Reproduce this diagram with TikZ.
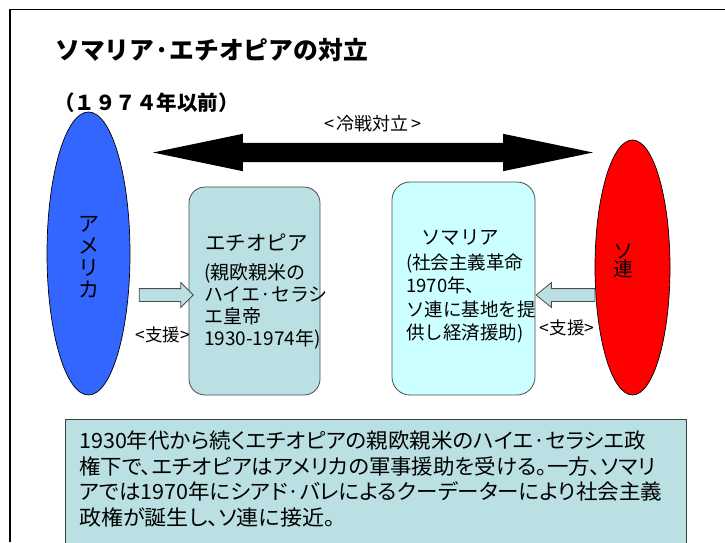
\documentclass[tikz,border=0pt]{standalone}
\usepackage{fontspec}
\usepackage{graphicx}
\setmainfont{Noto Sans CJK JP}
\newfontfamily\jpp[RawFeature=+palt]{Noto Sans CJK JP}
\usetikzlibrary{shapes.geometric,shapes.arrows}
\definecolor{usblue}{HTML}{3366FF}
\definecolor{boxgray}{HTML}{BBE0E3}
\definecolor{boxcyan}{HTML}{CCFFFF}
\newcommand\fitline[2]{\resizebox{#1}{\height}{#2}}
\tikzset{
  country/.style={ellipse, draw=black, line width=0.7pt, inner sep=0pt},
  statebox/.style={draw=black!70, line width=0.8pt, rounded corners=16pt},
  aidarrow/.style={single arrow, draw=black!70, fill=boxgray, line width=0.8pt,
    inner xsep=0pt, inner ysep=6pt, single arrow head extend=6pt},
}
\begin{document}
\begin{tikzpicture}[x=1pt,y=-1pt]
\useasboundingbox (0,0) rectangle (725,542);
% frame
\draw[line width=1.5pt] (10,542) -- (10,9.5) -- (725,9.5);
% title
\node[anchor=west, inner sep=0pt, font=\fontsize{24.8}{28}\selectfont\bfseries] (title) at (55,50) {ソマリア·エチオピアの対立};
\node[anchor=west, inner sep=0pt, font=\fontsize{20.5}{24}\selectfont\bfseries] (sub) at (54,103) {（１９７４年以前）};
% ellipses
\node[country, fill=usblue, minimum width=83pt, minimum height=283pt] (us) at (88.5,253.5) {};
\node[inner sep=0pt, align=center, font=\fontsize{21}{22}\selectfont] (usl) at (89,257.5) {ア\\メ\\リ\\カ};
\node[country, fill=red, minimum width=75pt, minimum height=255pt] (su) at (632.5,267.5) {};
\node[inner sep=0pt, align=center, font=\fontsize{20}{18.5}\selectfont] (sul) at (623,261) {ソ\\連};
% cold war arrow
\node[double arrow, fill=black, inner xsep=0pt, inner ysep=9.5pt, double arrow head extend=9pt,
  double arrow tip angle=23.5, minimum height=440pt] (cw) at (373,152.5) {};
\node[font=\fontsize{18}{20}\selectfont, inner sep=0pt] (cwl) at (373,124) {<\,冷戦対立\,>};
% state boxes
\draw[statebox, fill=boxgray] (189,187) rectangle (320,395);
\node[inner sep=0pt, anchor=west, font=\fontsize{20.5}{24}\selectfont] (etht) at (205,243) {エチオピア};
\node[inner sep=0pt, anchor=west, align=left, font=\fontsize{19}{22}\selectfont] (ethb) at (204,306) {(親欧親米の\\ハイエ·セラシ\\エ皇帝\\1930-1974年)};
\draw[statebox, rounded corners=18pt, fill=boxcyan] (392,182) rectangle (535,395);
\node[inner sep=0pt, font=\fontsize{19.5}{24}\selectfont] (somt) at (460,238) {ソマリア};
\node[inner sep=0pt, anchor=west, align=left, font=\fontsize{18.5}{23.5}\selectfont] (somb) at (406,298.5) {(社会主義革命\\1970年、\\ソ連に基地を提\\供し経済援助)};
% aid arrows
\node[aidarrow, minimum height=54pt, single arrow tip angle=90] (a1) at (163,295) {};
\node[aidarrow, minimum height=59pt, single arrow tip angle=78, shape border rotate=180] (a2) at (569.5,295) {};
\node[inner sep=0pt, font=\fontsize{17.5}{20}\selectfont] (a1l) at (162.5,335) {<支援>};
\node[inner sep=0pt, font=\fontsize{17.5}{20}\selectfont] (a2l) at (567,328) {<支援>};
% bottom box
\draw[draw=black!75, line width=1pt, fill=boxgray] (65,419) rectangle (686,560);
\node[inner sep=0pt, anchor=west, align=left, font=\jpp\fontsize{21}{25.7}\selectfont] (txt) at (79,479) {\fitline{567pt}{1930年代から続くエチオピアの親欧親米のハイエ·セラシエ政}\\\fitline{576pt}{権下で、エチオピアはアメリカの軍事援助を受ける。一方、ソマリ}\\\fitline{583pt}{アでは1970年にシアド·バレによるクーデーターにより社会主義}\\\fitline{256pt}{政権が誕生し、ソ連に接近。}};
\end{tikzpicture}
\end{document}
